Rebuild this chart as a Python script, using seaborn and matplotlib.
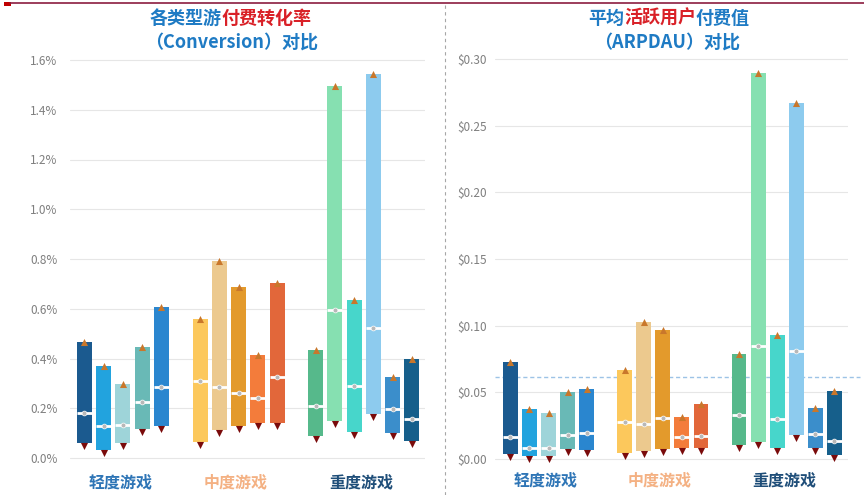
import numpy as np
import pandas as pd
import matplotlib
matplotlib.use("Agg")
import matplotlib.pyplot as plt
import seaborn as sns
from matplotlib.lines import Line2D
from matplotlib.patches import Rectangle

# ---------------- data ----------------
groups = ["轻度游戏", "中度游戏", "重度游戏"]
group_sizes = [5, 5, 6]
group_label_colors = ["#2e75b6", "#f4b183", "#1f4e79"]
bar_colors = ["#1b5a8f", "#22a3de", "#9ed4d9", "#69b9b6", "#2a86cf",
              "#fcc85c", "#ecc98e", "#e39a2c", "#f37c3b", "#e2673a",
              "#56b98b", "#86e0b1", "#47d6cb", "#8dcbee", "#3b8ecb", "#165f8b"]

# Conversion rate (%)
conv_top = [0.468, 0.369, 0.298, 0.448, 0.606,
            0.559, 0.791, 0.689, 0.416, 0.703,
            0.436, 1.497, 0.637, 1.545, 0.326, 0.396]
conv_med = [0.181, 0.127, 0.134, 0.225, 0.284,
            0.308, 0.284, 0.263, 0.241, 0.327,
            0.208, 0.594, 0.288, 0.522, 0.197, 0.157]
conv_low = [0.059, 0.032, 0.059, 0.117, 0.130,
            0.065, 0.113, 0.127, 0.139, 0.142,
            0.087, 0.150, 0.106, 0.177, 0.099, 0.067]
conv_ticks = [0.0, 0.2, 0.4, 0.6, 0.8, 1.0, 1.2, 1.4, 1.6]
conv_tick_labels = ["0.0%", "0.2%", "0.4%", "0.6%", "0.8%", "1.0%", "1.2%", "1.4%", "1.6%"]

# ARPDAU ($)
arp_top = [0.0728, 0.0373, 0.0343, 0.0500, 0.0525,
           0.0668, 0.1026, 0.0968, 0.0313, 0.0410,
           0.0788, 0.2896, 0.0931, 0.2670, 0.0385, 0.0513]
arp_med = [0.0167, 0.0080, 0.0083, 0.0180, 0.0193,
           0.0275, 0.0263, 0.0305, 0.0163, 0.0175,
           0.0330, 0.0848, 0.0303, 0.0813, 0.0188, 0.0138]
arp_low = [0.0038, 0.0025, 0.0025, 0.0073, 0.0068,
           0.0043, 0.0060, 0.0075, 0.0080, 0.0085,
           0.0105, 0.0130, 0.0080, 0.0180, 0.0080, 0.0030]
arp_ticks = [0.0, 0.05, 0.10, 0.15, 0.20, 0.25, 0.30]
arp_tick_labels = ["$0.00", "$0.05", "$0.10", "$0.15", "$0.20", "$0.25", "$0.30"]
arp_avg = 0.0615

# ---------------- style ----------------
sns.set_theme(style="white")
plt.rcParams["font.family"] = ["Noto Sans CJK SC", "DejaVu Sans"]

BLUE = "#1f7bc4"
RED = "#d92027"
W, H = 864, 495
fig = plt.figure(figsize=(W / 100, H / 100), dpi=100)
fig.patch.set_facecolor("white")

# slot positions: groups separated by one empty slot
pos = []
start = 0
group_of = []
for gi, n in enumerate(group_sizes):
    pos += list(range(start, start + n))
    group_of += [groups[gi]] * n
    start += n + 1


def make_df(top, med, low):
    return pd.DataFrame({"pos": pos, "top": top, "med": med, "low": low,
                         "color": bar_colors, "group": group_of})


def draw_panel(ax, df, ylim, ticks, tick_labels, ypad):
    ax.set_ylim(*ylim)
    ax.set_yticks(ticks)
    ax.set_yticklabels(tick_labels)
    ax.yaxis.grid(True, color="#e6e6e6", lw=0.8, zorder=0)
    ax.xaxis.grid(False)
    ax.set_axisbelow(True)
    sns.despine(ax=ax, left=True, bottom=True)
    ax.tick_params(axis="y", length=0, pad=ypad, labelsize=8.5, labelcolor="#7f7f7f")
    bw = 0.78
    ax.bar(df["pos"], df["top"] - df["low"], bottom=df["low"], width=bw,
           color=df["color"], zorder=2, linewidth=0)
    ax.hlines(df["med"], df["pos"] - bw / 2, df["pos"] + bw / 2, color="white",
              lw=2.0, zorder=3)
    sns.scatterplot(data=df, x="pos", y="med", ax=ax, marker="o", s=12,
                    color="#b8b8b8", edgecolor="white", linewidth=0.5, zorder=4,
                    legend=False)
    ax_h_px = ax.get_position().height * H
    px = (ylim[1] - ylim[0]) / ax_h_px
    sns.scatterplot(x=df["pos"], y=df["top"], ax=ax, marker="^", s=26,
                    color="#c9772b", linewidth=0, zorder=5, legend=False)
    sns.scatterplot(x=df["pos"], y=df["low"] - 3 * px, ax=ax, marker="v", s=26,
                    color="#7a0b0b", linewidth=0, zorder=5, legend=False,
                    clip_on=False)
    centers = df.groupby("group", sort=False)["pos"].mean()
    ax.set_xticks(list(centers.values - 0.15))
    ax.set_xticklabels(list(centers.index))
    ax.tick_params(axis="x", length=0, pad=8, labelsize=11.5)
    for lab, c in zip(ax.get_xticklabels(), group_label_colors):
        lab.set_color(c)
        lab.set_fontweight("bold")
    ax.set_xlabel("")
    ax.set_ylabel("")


# left axes: 0 -> y=458px, 1.6% -> y=60px
l_ylim = (-0.02, 1.63)
l_scale = (458 - 60) / 1.6
l_bottom = 458 + 0.02 * l_scale
l_height = (l_ylim[1] - l_ylim[0]) * l_scale
ax1 = fig.add_axes([70 / W, (H - l_bottom) / H, 355 / W, l_height / H])
draw_panel(ax1, make_df(conv_top, conv_med, conv_low), l_ylim,
           conv_ticks, conv_tick_labels, 9)
ax1.set_xlim(-0.75, 17.68)

# right axes: 0 -> y=459px, 0.30 -> y=59px
r_ylim = (-0.002, 0.305)
r_scale = (459 - 59) / 0.30
r_bottom = 459 + 0.002 * r_scale
r_height = (r_ylim[1] - r_ylim[0]) * r_scale
ax2 = fig.add_axes([495 / W, (H - r_bottom) / H, 353 / W, r_height / H])
draw_panel(ax2, make_df(arp_top, arp_med, arp_low), r_ylim,
           arp_ticks, arp_tick_labels, 6)
ax2.set_xlim(-0.81, 17.72)
ax2.axhline(arp_avg, xmin=0, xmax=1.035, color="#9dc3e6", ls=(0, (3, 2)),
            lw=1.0, zorder=1, clip_on=False)

# ---------------- decorations ----------------
fig.add_artist(Line2D([445 / W, 445 / W], [0, 1 - 5 / H], transform=fig.transFigure,
                      color="#a6a6a6", lw=0.8, ls=(0, (3, 3))))
fig.add_artist(Line2D([10 / W, 1], [1 - 3 / H, 1 - 3 / H], transform=fig.transFigure,
                      color="#8b1d3f", lw=1.2))
fig.add_artist(Rectangle((4 / W, 1 - 6 / H), 7 / W, 4 / H, transform=fig.transFigure,
                         color="#c00000", lw=0))

# ---------------- titles ----------------
renderer = fig.canvas.get_renderer()


def rainbow(xc_px, y_px, pieces, **kw):
    ts = [fig.text(0, 1 - y_px / H, s, color=c, va="center", ha="left", **kw)
          for s, c in pieces]
    ws = [t.get_window_extent(renderer).width for t in ts]
    x = xc_px - sum(ws) / 2
    for t, w in zip(ts, ws):
        t.set_x(x / W)
        x += w


tkw = dict(fontsize=13, fontweight="bold")
rainbow(231, 18, [("各类型游", BLUE), ("付费转化率", RED)], **tkw)
fig.text(232 / W, 1 - 42 / H, "（Conversion）对比", color=BLUE, ha="center",
         va="center", **tkw)
rainbow(669, 18, [("平均", BLUE), ("活跃用户", RED), ("付费值", BLUE)], **tkw)
fig.text(667 / W, 1 - 42 / H, "（ARPDAU）对比", color=BLUE, ha="center",
         va="center", **tkw)

fig.savefig("out.png", dpi=100)
